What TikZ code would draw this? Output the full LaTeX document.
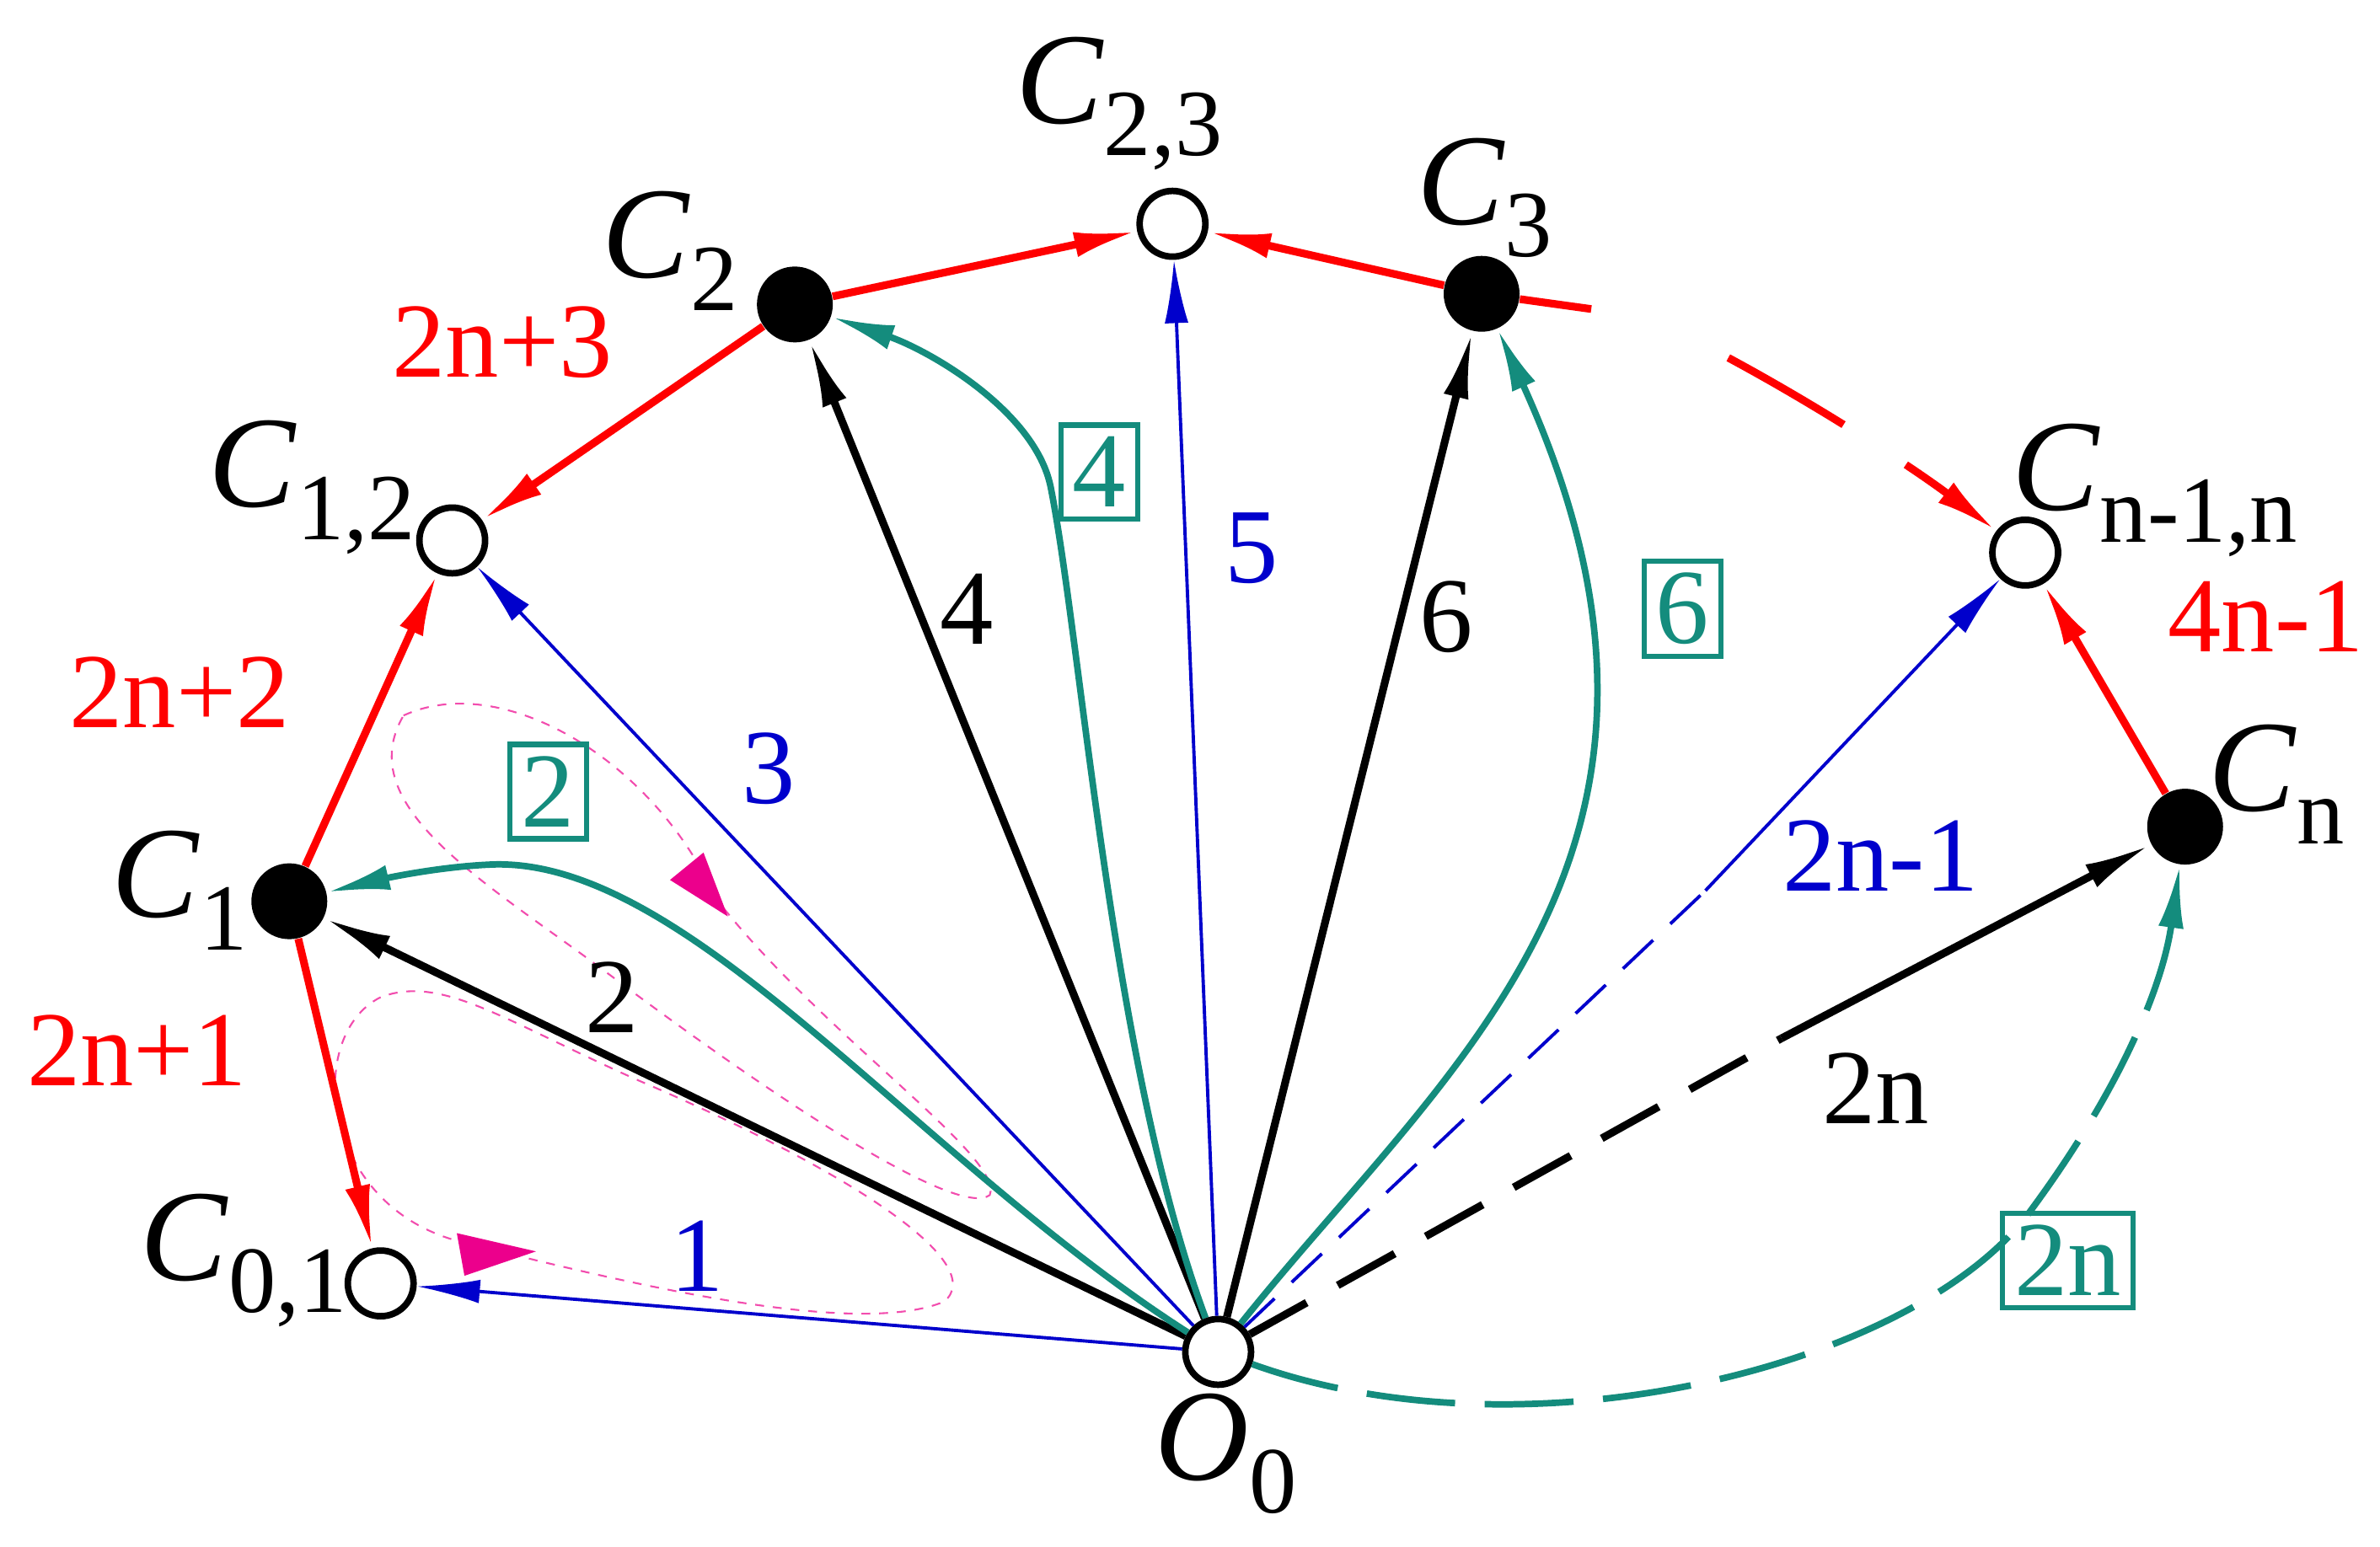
\documentclass[tikz,border=0pt]{standalone}
\usepackage{fontspec}
\setmainfont{Liberation Serif}
\usetikzlibrary{arrows.meta}
\definecolor{teal2}{RGB}{20,140,125}
\newcommand{\nmC}[2]{\textit{#1}\raisebox{-0.25em}{\fontsize{32}{34}\selectfont #2}}
\begin{document}
\begin{tikzpicture}[x=0.01807cm,y=-0.01807cm,
 open/.style={circle,draw,line width=2.2pt,fill=white,minimum size=0.78cm,inner sep=0},
 full/.style={circle,fill=black,minimum size=0.9cm,inner sep=0},
 red/.style={draw=red,line width=2.6pt,-{Latex[length=0.75cm,width=0.3cm]}},
 blu/.style={draw=blue!80!black,line width=1.1pt,-{Latex[length=0.75cm,width=0.28cm]}},
 blk/.style={draw=black,line width=2.6pt,-{Latex[length=0.8cm,width=0.3cm]}},
 tl/.style={draw=teal2,line width=2.2pt,-{Latex[length=0.75cm,width=0.3cm]}},
 mg/.style={draw=magenta!70,line width=0.6pt,dashed},
 lr/.style={text=red,font=\fontsize{36}{40}\selectfont},
 lb/.style={text=blue!80!black,font=\fontsize{36}{40}\selectfont},
 lk/.style={text=black,font=\fontsize{36}{40}\selectfont},
 lt/.style={text=teal2,draw=teal2,line width=1.8pt,font=\fontsize{36}{40}\selectfont,inner sep=4pt},
 nm/.style={font=\fontsize{44}{48}\selectfont}]
\useasboundingbox (0,0) rectangle (1563,1016);
\node[open] (O) at (800,888) {};
\node[open] (C01) at (250,843) {};
\node[full] (C1) at (190,592) {};
\node[open] (C12) at (297,355) {};
\node[full] (C2) at (522,200) {};
\node[open] (C23) at (770,147) {};
\node[full] (C3) at (973,193) {};
\node[open] (Cn1) at (1330,363) {};
\node[full] (Cn) at (1435,543) {};
\coordinate (d1) at (1045,203);
\coordinate (d2) at (1120,585);
\coordinate (d3) at (1170,682);
% names
\node[nm] (nO) at (805,955) {\nmC{O}{0}};
\node[nm] (n01) at (160,828) {\nmC{C}{0,1}};
\node[nm] (n1) at (118,585) {\nmC{C}{1}};
\node[nm] (n12) at (205,320) {\nmC{C}{1,2}};
\node[nm] (n2) at (440,165) {\nmC{C}{2}};
\node[nm] (n23) at (735,68) {\nmC{C}{2,3}};
\node[nm] (n3) at (975,130) {\nmC{C}{3}};
\node[nm] (nn1) at (1415,322) {\nmC{C}{n-1,n}};
\node[nm] (nn) at (1495,515) {\nmC{C}{n}};
% magenta loops
\draw[mg] (265,470) .. controls (330,440) and (430,500) .. (470,590) .. controls (540,680) and (660,760) .. (650,785) .. controls (630,800) and (520,730) .. (400,640) .. controls (320,580) and (230,530) .. (265,470);
\draw[mg] (250,655) .. controls (200,680) and (210,790) .. (300,815) .. controls (400,840) and (560,880) .. (620,855) .. controls (650,830) and (560,770) .. (420,710) .. controls (330,670) and (290,640) .. (250,655);
\fill[magenta] (478,602) -- (440,578) -- (462,560) -- cycle;
\fill[magenta] (352,822) -- (300,810) -- (305,838) -- cycle;
% red
\draw[red] (C1) -- (C01);
\draw[red] (C1) -- (C12);
\draw[red] (C2) -- (C12);
\draw[red] (C2) -- (C23);
\draw[red] (C3) -- (C23);
\draw[red] (Cn) -- (Cn1);
\draw[draw=red,line width=2.6pt] (C3) -- (d1);
\draw[red,dash pattern=on 45pt off 25pt] (1135,235) .. controls (1200,270) and (1260,310) .. (Cn1);
% blue
\draw[blu] (O) -- (C01);
\draw[blu] (O) -- (C12);
\draw[blu] (O) -- (C23);
\draw[draw=blue!80!black,line width=1.1pt,dash pattern=on 14pt off 8pt] (O) -- (d2);
\draw[blu] (d2) -- (Cn1);
% black
\draw[blk] (O) -- (C1);
\draw[blk] (O) -- (C2);
\draw[blk] (O) -- (C3);
\draw[draw=black,line width=2.6pt,dash pattern=on 22pt off 12pt] (O) -- (d3);
\draw[blk] (d3) -- (Cn);
% teal
\draw[tl] (O) .. controls (600,760) and (450,560) .. (320,568) .. controls (280,570) and (240,580) .. (C1);
\draw[tl] (O) .. controls (730,700) and (710,420) .. (690,320) .. controls (680,270) and (610,230) .. (C2);
\draw[tl] (O) .. controls (950,700) and (1140,560) .. (C3);
\draw[tl,dash pattern=on 30pt off 10pt] (O) .. controls (1000,960) and (1250,900) .. (1330,800) .. controls (1390,720) and (1420,650) .. (Cn);
% labels
\node[lr] (l1) at (90,690) {2n+1};
\node[lr] (l2) at (118,455) {2n+2};
\node[lr] (l3) at (330,225) {2n+3};
\node[lr] (l4) at (1488,405) {4n-1};
\node[lb] (b1) at (458,825) {1};
\node[lb] (b3) at (505,505) {3};
\node[lb] (b5) at (822,360) {5};
\node[lb] (b7) at (1235,562) {2n-1};
\node[lk] (k2) at (402,655) {2};
\node[lk] (k4) at (635,400) {4};
\node[lk] (k6) at (950,405) {6};
\node[lk] (k8) at (1232,715) {2n};
\node[lt] (t2) at (360,520) {2};
\node[lt] (t4) at (722,310) {4};
\node[lt] (t6) at (1105,400) {6};
\node[lt] (t8) at (1358,828) {2n};
\end{tikzpicture}
\end{document}
